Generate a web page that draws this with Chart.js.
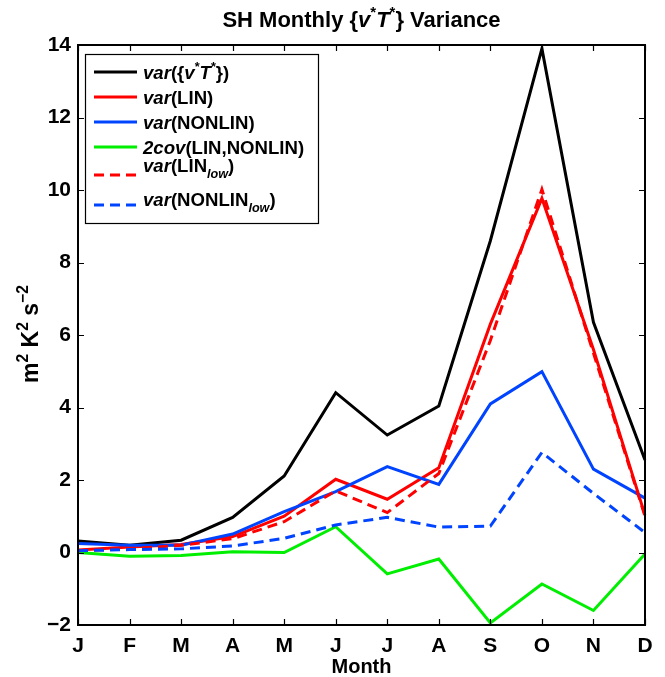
<!DOCTYPE html>
<html>
<head>
<meta charset="utf-8">
<script src="https://cdn.jsdelivr.net/npm/chart.js@4.4.1/dist/chart.umd.min.js"></script>
<style>
  html, body { margin: 0; padding: 0; background: #fff; }
  #wrap { width: 665px; height: 677px; }
</style>
</head>
<body>
<div id="wrap"><canvas id="chart" width="665" height="677"></canvas></div>
<script>
// monthly variance terms (m^2 K^2 s^-2)
const months = ['J', 'F', 'M', 'A', 'M', 'J', 'J', 'A', 'S', 'O', 'N', 'D'];
const varVT        = [0.32, 0.20, 0.34, 0.97, 2.11, 4.41, 3.24, 4.04, 8.60, 13.90, 6.35, 2.55];
const varLin       = [0.07, 0.15, 0.22, 0.44, 1.00, 2.02, 1.47, 2.34, 6.30, 9.77, 5.60, 1.03];
const varNonlin    = [0.25, 0.20, 0.20, 0.51, 1.13, 1.68, 2.37, 1.88, 4.10, 4.99, 2.30, 1.50];
const covLinNonlin = [0.00, -0.10, -0.08, 0.02, 0.00, 0.71, -0.59, -0.18, -1.94, -0.87, -1.60, -0.04];
const varLinLow    = [0.05, 0.10, 0.20, 0.38, 0.85, 1.70, 1.10, 2.18, 5.85, 10.02, 5.50, 1.00];
const varNonlinLow = [0.05, 0.08, 0.10, 0.18, 0.39, 0.76, 0.97, 0.70, 0.73, 2.76, 1.63, 0.55];
const yMin = -2, yMax = 14, yStep = 2;

const FONT = 'Liberation Sans, Arial, Helvetica, sans-serif';
const RED = '#ff0000', BLUE = '#0044ff', GREEN = '#00ee00';
const DASH = [10, 6];

// draws a run of text pieces: {t, i: italic, p: 'sup' | 'sub'}
function richWidth(ctx, segs, size) {
  let w = 0;
  for (const s of segs) {
    const sz = s.p ? size * 0.68 : size;
    ctx.font = (s.i ? 'italic ' : '') + 'bold ' + sz + 'px ' + FONT;
    w += ctx.measureText(s.t).width;
  }
  return w;
}
function drawRich(ctx, segs, x, y, size) {
  ctx.textBaseline = 'alphabetic';
  ctx.textAlign = 'left';
  for (const s of segs) {
    const sz = s.p ? size * 0.68 : size;
    ctx.font = (s.i ? 'italic ' : '') + 'bold ' + sz + 'px ' + FONT;
    let dy = 0;
    if (s.p === 'sup') dy = -size * 0.45;
    if (s.p === 'sub') dy = size * 0.32;
    ctx.fillText(s.t, x, y + dy);
    x += ctx.measureText(s.t).width;
  }
  return x;
}

const legendRows = [
  { color: 'black', dash: [], ly: 72, ty: 79, segs: [{ t: 'var', i: 1 }, { t: '({' }, { t: 'v', i: 1 }, { t: '*', p: 'sup' }, { t: 'T', i: 1 }, { t: '*', p: 'sup' }, { t: '})' }] },
  { color: RED, dash: [], ly: 97, ty: 104, segs: [{ t: 'var', i: 1 }, { t: '(LIN)' }] },
  { color: BLUE, dash: [], ly: 122, ty: 129, segs: [{ t: 'var', i: 1 }, { t: '(NONLIN)' }] },
  { color: GREEN, dash: [], ly: 147, ty: 154, segs: [{ t: '2cov', i: 1 }, { t: '(LIN,NONLIN)' }] },
  { color: RED, dash: DASH, ly: 175, ty: 172, segs: [{ t: 'var', i: 1 }, { t: '(LIN' }, { t: 'low', i: 1, p: 'sub' }, { t: ')' }] },
  { color: BLUE, dash: DASH, ly: 205, ty: 206, segs: [{ t: 'var', i: 1 }, { t: '(NONLIN' }, { t: 'low', i: 1, p: 'sub' }, { t: ')' }] }
];

// frame, inward ticks, titles and legend in the old plotting-package style
const decorations = {
  id: 'decorations',
  afterDraw(chart) {
    const { ctx, chartArea: a, scales: { x, y } } = chart;
    ctx.save();
    ctx.strokeStyle = '#000';
    ctx.lineWidth = 2;
    ctx.setLineDash([]);
    ctx.strokeRect(a.left, a.top, a.right - a.left, a.bottom - a.top);
    ctx.lineWidth = 1.2;
    const tl = 6;
    ctx.beginPath();
    months.forEach((m, i) => {
      const px = Math.round(x.getPixelForValue(i)) + 0.5;
      ctx.moveTo(px, a.bottom); ctx.lineTo(px, a.bottom - tl);
      ctx.moveTo(px, a.top); ctx.lineTo(px, a.top + tl);
    });
    for (let v = yMin; v <= yMax; v += yStep) {
      const py = Math.round(y.getPixelForValue(v)) + 0.5;
      ctx.moveTo(a.left, py); ctx.lineTo(a.left + tl, py);
      ctx.moveTo(a.right, py); ctx.lineTo(a.right - tl, py);
    }
    ctx.stroke();

    ctx.fillStyle = '#000';
    // title
    const title = [{ t: 'SH Monthly {' }, { t: 'v', i: 1 }, { t: '*', p: 'sup' }, { t: 'T', i: 1 }, { t: '*', p: 'sup' }, { t: '} Variance' }];
    const cx = (a.left + a.right) / 2;
    const tw = richWidth(ctx, title, 22);
    drawRich(ctx, title, cx - tw / 2, 27, 22);

    // x title
    ctx.font = 'bold 20px ' + FONT;
    ctx.textAlign = 'center';
    ctx.textBaseline = 'alphabetic';
    ctx.fillText('Month', cx, 673);

    // y title
    const ylab = [{ t: 'm' }, { t: '2', p: 'sup' }, { t: ' K' }, { t: '2', p: 'sup' }, { t: ' s' }, { t: '\u22122', p: 'sup' }];
    ctx.save();
    ctx.translate(38, (a.top + a.bottom) / 2 - 1);
    ctx.rotate(-Math.PI / 2);
    const yw = richWidth(ctx, ylab, 23);
    drawRich(ctx, ylab, -yw / 2, 0, 23);
    ctx.restore();

    // legend
    ctx.fillStyle = '#fff';
    ctx.fillRect(85, 54, 233, 169);
    ctx.strokeStyle = '#000';
    ctx.lineWidth = 1.2;
    ctx.strokeRect(85.5, 54.5, 233, 169);
    for (const r of legendRows) {
      ctx.strokeStyle = r.color;
      ctx.lineWidth = 3;
      ctx.setLineDash(r.dash);
      ctx.beginPath();
      ctx.moveTo(94, r.ly); ctx.lineTo(137, r.ly);
      ctx.stroke();
      ctx.setLineDash([]);
      ctx.fillStyle = '#000';
      drawRich(ctx, r.segs, 143, r.ty, 18.6);
    }
    ctx.restore();
  }
};

function series(data, color, dash, order) {
  return {
    data, borderColor: color, backgroundColor: color, borderWidth: 3,
    borderDash: dash, pointRadius: 0, tension: 0, fill: false, order,
    borderJoinStyle: 'miter'
  };
}

new Chart(document.getElementById('chart'), {
  type: 'line',
  data: {
    labels: months,
    datasets: [
      series(varVT, '#000', [], 6),
      series(varLin, RED, [], 5),
      series(varNonlin, BLUE, [], 4),
      series(covLinNonlin, GREEN, [], 3),
      series(varLinLow, RED, DASH, 2),
      series(varNonlinLow, BLUE, DASH, 1)
    ]
  },
  options: {
    responsive: false,
    animation: false,
    layout: { padding: { top: 45, right: 20, left: 0, bottom: 0 } },
    plugins: { legend: { display: false }, title: { display: false }, tooltip: { enabled: false } },
    scales: {
      x: {
        type: 'category',
        offset: false,
        grid: { display: false, drawTicks: false },
        border: { display: false },
        afterFit(s) { s.height = 52; },
        ticks: {
          color: '#000', padding: 9, maxRotation: 0, autoSkip: false,
          font: { family: FONT, size: 21, weight: 'bold' }
        }
      },
      y: {
        min: yMin, max: yMax,
        grid: { display: false, drawTicks: false },
        border: { display: false },
        afterFit(s) { s.width = 78; },
        ticks: {
          stepSize: yStep, color: '#000', padding: 7,
          font: { family: FONT, size: 21, weight: 'bold' },
          callback: v => (v < 0 ? '\u2212' + Math.abs(v) : String(v))
        }
      }
    }
  },
  plugins: [decorations]
});
</script>
</body>
</html>
